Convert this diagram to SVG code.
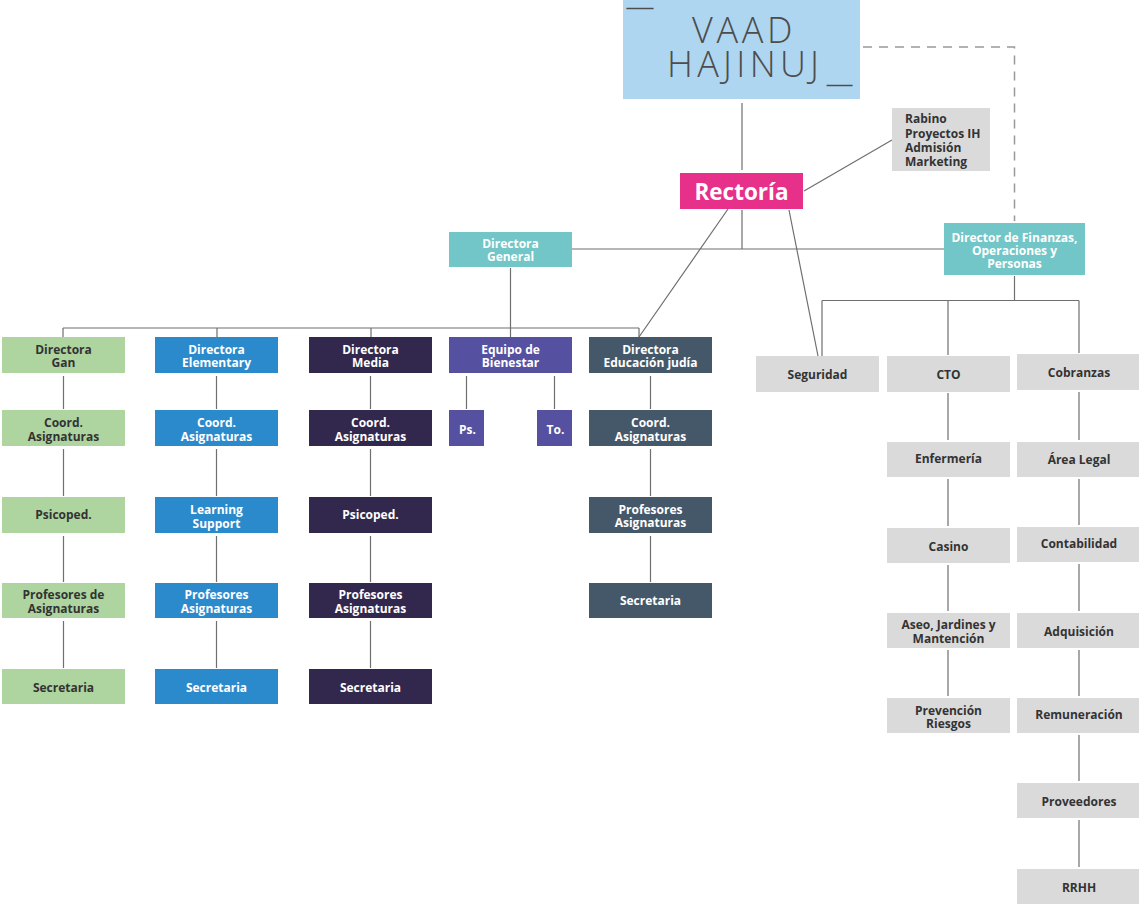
<svg xmlns="http://www.w3.org/2000/svg" width="1139" height="904" viewBox="0 0 1139 904">
<style>
text{font-family:"Open Sans","Noto Sans","Liberation Sans",sans-serif;font-weight:700;font-size:12px;text-anchor:middle;dominant-baseline:central}
.d{fill:#333}
.w{fill:#fff}
.gan{fill:#AED4A0}
.ele{fill:#2B8ACB}
.med{fill:#32284D}
.bie{fill:#5551A0}
.jud{fill:#45586A}
.gr{fill:#DADADA}
.tl{fill:#72C6C7}
.ln{stroke:#6f6f6f;stroke-width:1.2;fill:none}
.dash{stroke:#999;stroke-width:1.5;fill:none;stroke-dasharray:9 7}
.big{font-weight:300;font-size:36px;fill:#4d4d4d;dominant-baseline:auto;text-anchor:start}
.us{font-weight:400;font-size:7px;fill:#4d4d4d;stroke:#4d4d4d;stroke-width:1.3;dominant-baseline:auto;text-anchor:start}
</style>
<g id="connectors">
<path class="dash" d="M863 47H1014.5V221"/>
<path class="ln" d="M742 103V170M742 210V249M572 249H944M804 191L892 140M728 209L639 337M789 210L818 356"/>
<path class="ln" d="M510.5 268V328M63 328H639M63 328V337M217 328V337M371 328V337M510.5 328V337M639 328V337"/>
<path class="ln" d="M63.5 376V409M63.5 449V496M63.5 536V582M63.5 621V668"/>
<path class="ln" d="M216.5 376V409M216.5 449V496M216.5 536V582M216.5 621V668"/>
<path class="ln" d="M370.5 376V409M370.5 449V496M370.5 536V582M370.5 621V668"/>
<path class="ln" d="M466.5 376V409M554.5 376V409"/>
<path class="ln" d="M650.5 376V409M650.5 449V496M650.5 536V582"/>
<path class="ln" d="M1014.5 276V300.5M822 300.5H1079M822 300.5V356M948 300.5V355M1079 300.5V353"/>
<path class="ln" d="M948 393V440M948 479V526M948 565V611M948 650V696"/>
<path class="ln" d="M1079 392V440M1079 479V525M1079 564V611M1079 650V696M1079 735V781M1079 820V867"/>
</g>
<g id="vaad">
<rect x="623" y="0" width="237" height="99" fill="#AFD6F0"/>
<text class="big"><tspan x="692" y="43" style="letter-spacing:3.7px">VAAD</tspan><tspan x="667" y="77" style="letter-spacing:4.3px">HAJINUJ</tspan></text>
<text class="us" x="630.5" y="8" textLength="19" lengthAdjust="spacingAndGlyphs">_</text>
<text class="us" x="830.5" y="85" textLength="18.2" lengthAdjust="spacingAndGlyphs">_</text>
</g>
<g id="rabino">
<rect x="892" y="108" width="98" height="63" class="gr"/>
<text class="d" style="text-anchor:start"><tspan x="905" y="118">Rabino</tspan><tspan x="905" y="132.5">Proyectos IH</tspan><tspan x="905" y="147">Admisión</tspan><tspan x="905" y="161">Marketing</tspan></text>
</g>
<g id="rectoria">
<rect x="680" y="173" width="123" height="36" fill="#E7308A"/>
<text class="w" x="741.5" y="191" style="font-size:22.5px">Rectoría</text>
</g>
<g id="dir-general">
<rect x="449" y="232" width="123" height="35" class="tl"/>
<text class="w"><tspan x="510.5" y="243">Directora</tspan><tspan x="510.5" y="256">General</tspan></text>
</g>
<g id="dir-finanzas">
<rect x="944" y="223" width="141" height="52" class="tl"/>
<text class="w"><tspan x="1014.5" y="236.5">Director de Finanzas,</tspan><tspan x="1014.5" y="250">Operaciones y</tspan><tspan x="1014.5" y="263">Personas</tspan></text>
</g>
<g id="gan">
<g id="gan-dir"><rect x="2" y="337" width="123" height="36" class="gan"/><text class="d"><tspan x="63.5" y="349">Directora</tspan><tspan x="63.5" y="362">Gan</tspan></text></g>
<g id="gan-coord"><rect x="2" y="410" width="123" height="36" class="gan"/><text class="d"><tspan x="63.5" y="422">Coord.</tspan><tspan x="63.5" y="435.5">Asignaturas</tspan></text></g>
<g id="gan-psi"><rect x="2" y="497" width="123" height="36" class="gan"/><text class="d" x="63.5" y="514.5">Psicoped.</text></g>
<g id="gan-prof"><rect x="2" y="583" width="123" height="35" class="gan"/><text class="d"><tspan x="63.5" y="594">Profesores de</tspan><tspan x="63.5" y="607.5">Asignaturas</tspan></text></g>
<g id="gan-sec"><rect x="2" y="669" width="123" height="35" class="gan"/><text class="d" x="63.5" y="687">Secretaria</text></g>
</g>
<g id="elementary">
<g id="ele-dir"><rect x="155" y="337" width="123" height="36" class="ele"/><text class="w"><tspan x="216.5" y="349">Directora</tspan><tspan x="216.5" y="362">Elementary</tspan></text></g>
<g id="ele-coord"><rect x="155" y="410" width="123" height="36" class="ele"/><text class="w"><tspan x="216.5" y="422">Coord.</tspan><tspan x="216.5" y="435.5">Asignaturas</tspan></text></g>
<g id="ele-ls"><rect x="155" y="497" width="123" height="36" class="ele"/><text class="w"><tspan x="216.5" y="509">Learning</tspan><tspan x="216.5" y="522.5">Support</tspan></text></g>
<g id="ele-prof"><rect x="155" y="583" width="123" height="35" class="ele"/><text class="w"><tspan x="216.5" y="594">Profesores</tspan><tspan x="216.5" y="607.5">Asignaturas</tspan></text></g>
<g id="ele-sec"><rect x="155" y="669" width="123" height="35" class="ele"/><text class="w" x="216.5" y="687">Secretaria</text></g>
</g>
<g id="media">
<g id="med-dir"><rect x="309" y="337" width="123" height="36" class="med"/><text class="w"><tspan x="370.5" y="349">Directora</tspan><tspan x="370.5" y="362">Media</tspan></text></g>
<g id="med-coord"><rect x="309" y="410" width="123" height="36" class="med"/><text class="w"><tspan x="370.5" y="422">Coord.</tspan><tspan x="370.5" y="435.5">Asignaturas</tspan></text></g>
<g id="med-psi"><rect x="309" y="497" width="123" height="36" class="med"/><text class="w" x="370.5" y="514.5">Psicoped.</text></g>
<g id="med-prof"><rect x="309" y="583" width="123" height="35" class="med"/><text class="w"><tspan x="370.5" y="594">Profesores</tspan><tspan x="370.5" y="607.5">Asignaturas</tspan></text></g>
<g id="med-sec"><rect x="309" y="669" width="123" height="35" class="med"/><text class="w" x="370.5" y="687">Secretaria</text></g>
</g>
<g id="bienestar">
<g id="bie-eq"><rect x="449" y="337" width="123" height="36" class="bie"/><text class="w"><tspan x="510.5" y="349">Equipo de</tspan><tspan x="510.5" y="362">Bienestar</tspan></text></g>
<g id="bie-ps"><rect x="449" y="410" width="35" height="36" class="bie"/><text class="w" x="467.5" y="429">Ps.</text></g>
<g id="bie-to"><rect x="537" y="410" width="35" height="36" class="bie"/><text class="w" x="555.5" y="429">To.</text></g>
</g>
<g id="judia">
<g id="jud-dir"><rect x="589" y="337" width="123" height="36" class="jud"/><text class="w"><tspan x="650.5" y="349">Directora</tspan><tspan x="650.5" y="362">Educación judía</tspan></text></g>
<g id="jud-coord"><rect x="589" y="410" width="123" height="36" class="jud"/><text class="w"><tspan x="650.5" y="422">Coord.</tspan><tspan x="650.5" y="435.5">Asignaturas</tspan></text></g>
<g id="jud-prof"><rect x="589" y="497" width="123" height="36" class="jud"/><text class="w"><tspan x="650.5" y="508.5">Profesores</tspan><tspan x="650.5" y="522">Asignaturas</tspan></text></g>
<g id="jud-sec"><rect x="589" y="583" width="123" height="35" class="jud"/><text class="w" x="650.5" y="600.5">Secretaria</text></g>
</g>
<g id="seguridad"><rect x="756" y="356" width="123" height="36" class="gr"/><text class="d" x="817.5" y="374.5">Seguridad</text></g>
<g id="cto-col">
<g id="cto"><rect x="887" y="356" width="123" height="36" class="gr"/><text class="d" x="948.5" y="374.5">CTO</text></g>
<g id="enfermeria"><rect x="887" y="442" width="123" height="35" class="gr"/><text class="d" x="948.5" y="458.5">Enfermería</text></g>
<g id="casino"><rect x="887" y="528" width="123" height="35" class="gr"/><text class="d" x="948.5" y="546">Casino</text></g>
<g id="aseo"><rect x="887" y="613" width="123" height="35" class="gr"/><text class="d"><tspan x="948.5" y="624">Aseo, Jardines y</tspan><tspan x="948.5" y="637.5">Mantención</tspan></text></g>
<g id="prevencion"><rect x="887" y="698" width="123" height="35" class="gr"/><text class="d"><tspan x="948.5" y="709.5">Prevención</tspan><tspan x="948.5" y="723">Riesgos</tspan></text></g>
</g>
<g id="cob-col">
<g id="cobranzas"><rect x="1017" y="354" width="122" height="36" class="gr"/><text class="d" x="1079" y="372">Cobranzas</text></g>
<g id="legal"><rect x="1017" y="442" width="122" height="35" class="gr"/><text class="d" x="1079" y="459.5">Área Legal</text></g>
<g id="contabilidad"><rect x="1017" y="527" width="122" height="35" class="gr"/><text class="d" x="1079" y="543">Contabilidad</text></g>
<g id="adquisicion"><rect x="1017" y="613" width="122" height="35" class="gr"/><text class="d" x="1079" y="631">Adquisición</text></g>
<g id="remuneracion"><rect x="1017" y="698" width="122" height="35" class="gr"/><text class="d" x="1079" y="714">Remuneración</text></g>
<g id="proveedores"><rect x="1017" y="783" width="122" height="35" class="gr"/><text class="d" x="1079" y="801">Proveedores</text></g>
<g id="rrhh"><rect x="1017" y="869" width="122" height="35" class="gr"/><text class="d" x="1079" y="887">RRHH</text></g>
</g>
</svg>
